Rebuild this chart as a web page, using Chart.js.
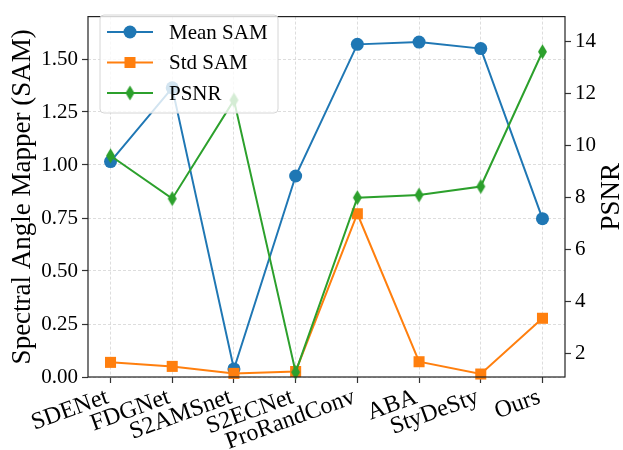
<!DOCTYPE html>
<html>
<head>
<meta charset="utf-8">
<script src="https://cdn.jsdelivr.net/npm/chart.js@4.4.1/dist/chart.umd.min.js"></script>
<style>
  body { margin: 0; background: #fff; }
  #wrap { width: 623px; height: 450px; }
</style>
</head>
<body>
<div id="wrap"><canvas id="chart" width="623" height="450"></canvas></div>
<script>
// Methods on the x axis and the three series
var methods = ['SDENet', 'FDGNet', 'S2AMSnet', 'S2ECNet', 'ProRandConv', 'ABA', 'StyDeSty', 'Ours'];
var meanSam = [1.016, 1.364, 0.038, 0.948, 1.569, 1.580, 1.549, 0.747];
var stdSam = [0.069, 0.050, 0.017, 0.026, 0.770, 0.072, 0.014, 0.277];
var psnr = [9.61, 7.96, 11.75, 1.29, 8.00, 8.10, 8.43, 13.61];
var samTicks = [0, 0.25, 0.5, 0.75, 1.0, 1.25, 1.5];
var psnrTicks = [2, 4, 6, 8, 10, 12, 14];

var FONT = "'Liberation Serif', 'Times New Roman', serif";
var blue = '#1f77b4', orange = '#ff7f0e', green = '#2ca02c';

// thin diamond marker (matplotlib 'd')
function thinDiamond(color) {
  var c = document.createElement('canvas');
  c.width = 11; c.height = 16;
  var g = c.getContext('2d');
  g.fillStyle = color;
  g.beginPath();
  g.moveTo(5.5, 0.5); g.lineTo(10, 8); g.lineTo(5.5, 15.5); g.lineTo(1, 8);
  g.closePath();
  g.fill();
  return c;
}
var diamond = thinDiamond(green);

function toPoints(arr) {
  return arr.map(function (v, i) { return { x: i, y: v }; });
}

// frame, inside legend and right axis title
var extras = {
  id: 'extras',
  afterDatasetsDraw: function (chart) {
    var a = chart.chartArea, ctx = chart.ctx;
    ctx.save();
    ctx.strokeStyle = '#222';
    ctx.lineWidth = 1.2;
    ctx.strokeRect(a.left, a.top, a.right - a.left, a.bottom - a.top);

    // legend box
    var bx = 100, by = 15, bw = 178, bh = 98, r = 4;
    ctx.beginPath();
    ctx.moveTo(bx + r, by);
    ctx.arcTo(bx + bw, by, bx + bw, by + bh, r);
    ctx.arcTo(bx + bw, by + bh, bx, by + bh, r);
    ctx.arcTo(bx, by + bh, bx, by, r);
    ctx.arcTo(bx, by, bx + bw, by, r);
    ctx.closePath();
    ctx.fillStyle = 'rgba(255,255,255,0.8)';
    ctx.fill();
    ctx.strokeStyle = '#d6d6d6';
    ctx.lineWidth = 1;
    ctx.stroke();

    var items = [
      { label: 'Mean SAM', color: blue, y: 32, mark: 'circle' },
      { label: 'Std SAM', color: orange, y: 62.5, mark: 'square' },
      { label: 'PSNR', color: green, y: 93, mark: 'diamond' }
    ];
    items.forEach(function (it) {
      ctx.strokeStyle = it.color;
      ctx.lineWidth = 2;
      ctx.beginPath();
      ctx.moveTo(107, it.y); ctx.lineTo(153, it.y);
      ctx.stroke();
      ctx.fillStyle = it.color;
      if (it.mark === 'circle') {
        ctx.beginPath(); ctx.arc(130, it.y, 6.5, 0, Math.PI * 2); ctx.fill();
      } else if (it.mark === 'square') {
        ctx.fillRect(124.5, it.y - 5.5, 11, 11);
      } else {
        ctx.drawImage(diamond, 130 - diamond.width / 2, it.y - diamond.height / 2);
      }
      ctx.fillStyle = '#000';
      ctx.font = '21px ' + FONT;
      ctx.textAlign = 'left';
      ctx.textBaseline = 'middle';
      ctx.fillText(it.label, 169, it.y + 1);
    });

    // right axis title, reading bottom to top
    ctx.translate(612, (a.top + a.bottom) / 2);
    ctx.rotate(-Math.PI / 2);
    ctx.fillStyle = '#000';
    ctx.font = '27px ' + FONT;
    ctx.textAlign = 'center';
    ctx.textBaseline = 'middle';
    ctx.fillText('PSNR', 0, 0);
    ctx.restore();
  }
};

var ctx = document.getElementById('chart').getContext('2d');
new Chart(ctx, {
  type: 'line',
  data: {
    datasets: [
      {
        label: 'Mean SAM', data: toPoints(meanSam), yAxisID: 'y', order: 3,
        borderColor: blue, backgroundColor: blue, borderWidth: 2,
        pointStyle: 'circle', pointRadius: 6.5, pointBorderWidth: 0, clip: false
      },
      {
        label: 'Std SAM', data: toPoints(stdSam), yAxisID: 'y', order: 2,
        borderColor: orange, backgroundColor: orange, borderWidth: 2,
        pointStyle: 'rect', pointRadius: 7.8, pointBorderWidth: 0, clip: false
      },
      {
        label: 'PSNR', data: toPoints(psnr), yAxisID: 'y2', order: 1,
        borderColor: green, backgroundColor: green, borderWidth: 2,
        pointStyle: diamond, pointRadius: 6, clip: false
      }
    ]
  },
  options: {
    responsive: false,
    animation: false,
    layout: { padding: { top: 5, left: 0, right: 0, bottom: 0 } },
    plugins: { legend: { display: false }, tooltip: { enabled: false } },
    elements: { line: { tension: 0 } },
    scales: {
      x: {
        type: 'linear', min: -0.365, max: 7.365,
        afterBuildTicks: function (s) { s.ticks = methods.map(function (m, i) { return { value: i }; }); },
        afterFit: function (s) { s.height = 73; },
        ticks: {
          callback: function (v) { return methods[v]; },
          minRotation: 20, maxRotation: 20, autoSkip: false, padding: 0, labelOffset: -3,
          color: '#000', font: { family: FONT, size: 24 }
        },
        grid: { color: '#d4d4d4', lineWidth: 0.8, tickColor: '#333', tickLength: 6, tickWidth: 1.2 },
        border: { display: false, dash: [3, 2] }
      },
      y: {
        position: 'left', min: 0, max: 1.70,
        afterBuildTicks: function (s) { s.ticks = samTicks.map(function (v) { return { value: v }; }); },
        afterFit: function (s) { s.width = 88; },
        ticks: {
          callback: function (v) { return v.toFixed(2); },
          padding: 4, color: '#000', font: { family: FONT, size: 21 }
        },
        grid: { color: '#d4d4d4', lineWidth: 0.8, tickColor: '#333', tickLength: 6, tickWidth: 1.2 },
        border: { display: false, dash: [3, 2] },
        title: {
          display: true, text: 'Spectral Angle Mapper (SAM)', color: '#000',
          font: { family: FONT, size: 27 }, padding: { top: 7, bottom: 0 }
        }
      },
      y2: {
        position: 'right', min: 1.105, max: 14.96,
        afterBuildTicks: function (s) { s.ticks = psnrTicks.map(function (v) { return { value: v }; }); },
        afterFit: function (s) { s.width = 58; },
        ticks: {
          callback: function (v) { return String(v); },
          padding: 4, color: '#000', font: { family: FONT, size: 21 }
        },
        grid: { drawOnChartArea: false, tickColor: '#333', tickLength: 6, tickWidth: 1.2 },
        border: { display: false }
      }
    }
  },
  plugins: [extras]
});
</script>
</body>
</html>
